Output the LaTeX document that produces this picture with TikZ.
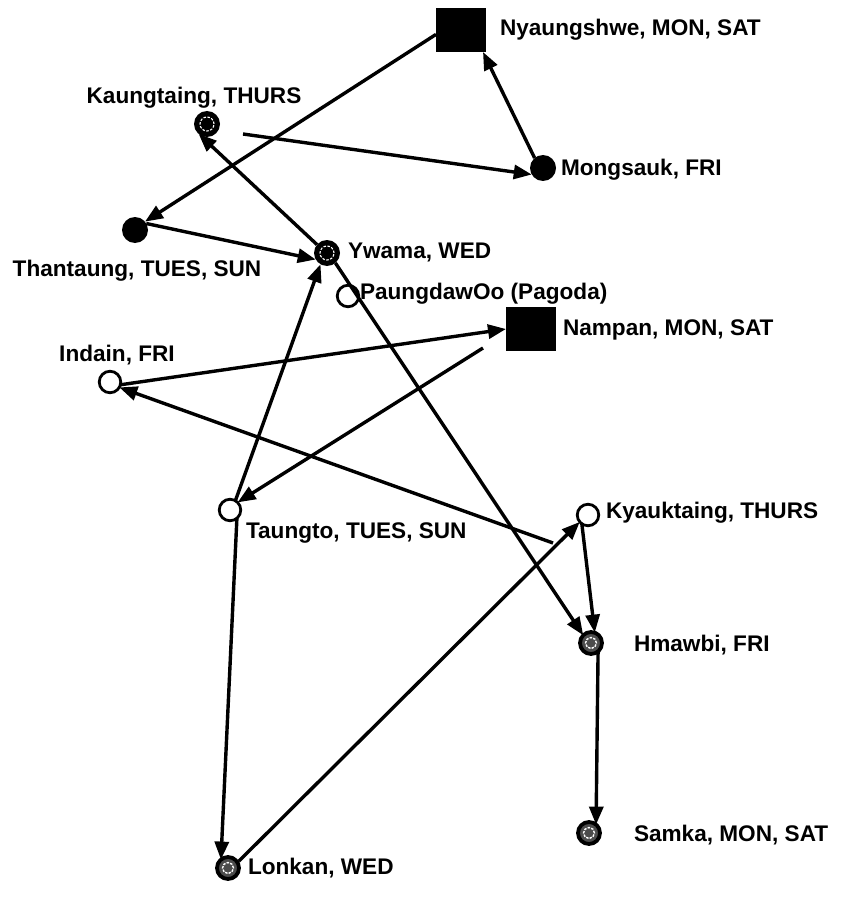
\documentclass[tikz,border=0pt]{standalone}
\usepackage{fontspec}
\setmainfont{Liberation Sans}
\usetikzlibrary{arrows.meta}
\begin{document}
\begin{tikzpicture}[x=1pt,y=-1pt,
 every node/.style={inner sep=0pt,outer sep=0pt},
 lbl/.style={font=\fontsize{22.6pt}{26pt}\selectfont\bfseries, anchor=west},
 lblc/.style={font=\fontsize{22.6pt}{26pt}\selectfont\bfseries, anchor=center},
 sq/.style={rectangle, fill=black, minimum width=50pt, minimum height=44pt},
 bdot/.style={circle, fill=black, minimum size=26pt},
 gdot/.style={circle, fill=black, minimum size=26pt, path picture={\draw[white, line width=1.1pt, dash pattern=on 2.5pt off 1.5pt] (path picture bounding box.center) circle (7pt);}},
 rdot/.style={circle, draw=black, line width=3.8pt, fill=black!70, minimum size=22pt, path picture={\draw[white, line width=1.4pt, dash pattern=on 2.5pt off 1.2pt] (path picture bounding box.center) circle (5.5pt);}},
 wdot/.style={circle, draw=black, line width=2.8pt, fill=white, minimum size=21.5pt},
 edge/.style={line width=3.4pt, -{Triangle[length=18pt,width=14pt]}}]
\useasboundingbox (0,0) rectangle (841,912);
% places
\node[sq]   (nya) at (461,30) {};
\node[gdot] (kau) at (207,124) {};
\node[bdot] (mon) at (543,168) {};
\node[bdot] (tha) at (135,230) {};
\node[gdot] (ywa) at (327,253) {};
\node[wdot] (pau) at (348,296) {};
\node[sq]   (nam) at (531,329) {};
\node[wdot] (ind) at (110,382) {};
\node[wdot] (tau) at (230,510) {};
\node[wdot] (kya) at (588,515) {};
\node[rdot] (hma) at (591,643) {};
\node[rdot] (sam) at (589,833) {};
\node[rdot] (lon) at (228,868) {};
% labels
\node[lbl]  (nyaL) at (500,30) {Nyaungshwe, MON, SAT};
\node[lbl]  (monL) at (561,170) {Mongsauk, FRI};
\node[lblc] (kauL) at (194,98) {Kaungtaing, THURS};
\node[lblc] (thaL) at (137,271) {Thantaung, TUES, SUN};
\node[lbl]  (ywaL) at (348,252) {Ywama, WED};
\node[lbl]  (pauL) at (360,294) {PaungdawOo (Pagoda)};
\node[lbl]  (namL) at (563,330) {Nampan, MON, SAT};
\node[lblc] (indL) at (117,355) {Indain, FRI};
\node[lbl]  (tauL) at (246,533) {Taungto, TUES, SUN};
\node[lbl]  (kyaL) at (606,513) {Kyauktaing, THURS};
\node[lbl]  (hmaL) at (634,645) {Hmawbi, FRI};
\node[lbl]  (samL) at (634,835) {Samka, MON, SAT};
\node[lbl]  (lonL) at (248,868) {Lonkan, WED};
% free ends
\coordinate (kauS) at (243,134);
\coordinate (namS) at (483,348);
\coordinate (kyaS) at (553,543);
% connectors
\draw[edge] (nya.-170) -- (tha.40);
\draw[edge] (mon.130) -- ([xshift=-3pt]nya.south east);
\draw[edge] (kauS) -- (mon.-150);
\draw[edge] (ywa.140) -- (kau.-130);
\draw[edge] (tha.30) -- (ywa.210);
\draw[edge] (tau.60) -- (ywa.240);
\draw[edge] (ywa.-50) -- (hma.135);
\draw[edge] (ind.-15) -- (nam.west);
\draw[edge] (namS) -- (tau.45);
\draw[edge] (kyaS) -- (ind.-30);
\draw[edge] ([shift={(3pt,-1pt)}]lon.45) -- (kya.-140);
\draw[edge] (kya.-125) -- (hma.70);
\draw[edge] (hma.-50) -- (sam.50);
\draw[edge] (tau.-50) -- (lon.130);
\end{tikzpicture}
\end{document}
